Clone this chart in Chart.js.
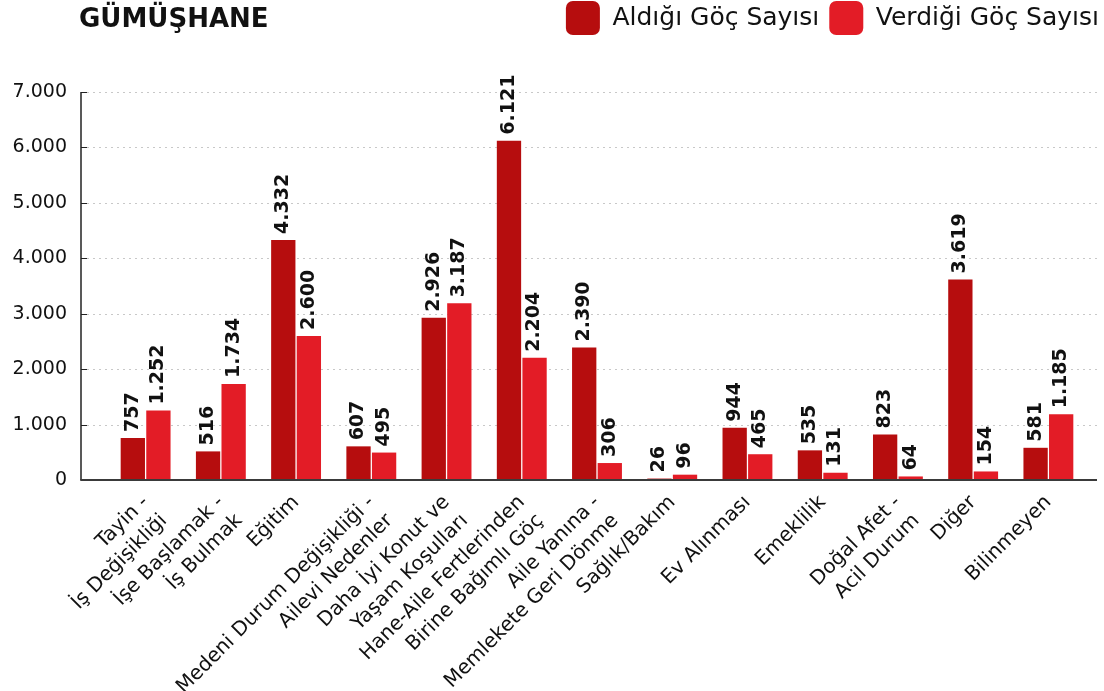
<!DOCTYPE html>
<html lang="tr">
<head>
<meta charset="utf-8">
<title>Gümüşhane - Göç Nedenleri</title>
<script src="https://cdn.jsdelivr.net/npm/chart.js@4/dist/chart.umd.min.js"></script>
<style>
  html, body { margin: 0; padding: 0; background: #ffffff; }
  #wrap { width: 1104px; height: 691px; position: relative; }
</style>
</head>
<body>
<div id="wrap"><canvas id="chart" width="1104" height="691"></canvas></div>
<script>
// Göç nedenleri (kategori etiketleri, çok satırlı)
const categories = [
  ['Tayin -', 'İş Değişikliği'],
  ['İşe Başlamak -', 'İş Bulmak'],
  ['Eğitim'],
  ['Medeni Durum Değişikliği -', 'Ailevi Nedenler'],
  ['Daha İyi Konut ve', 'Yaşam Koşulları'],
  ['Hane-Aile Fertlerinden', 'Birine Bağımlı Göç'],
  ['Aile Yanına -', 'Memlekete Geri Dönme'],
  ['Sağlık/Bakım'],
  ['Ev Alınması'],
  ['Emeklilik'],
  ['Doğal Afet -', 'Acil Durum'],
  ['Diğer'],
  ['Bilinmeyen']
];

const aldigiGoc  = [757, 516, 4332, 607, 2926, 6121, 2390, 26, 944, 535, 823, 3619, 581];
const verdigiGoc = [1252, 1734, 2600, 495, 3187, 2204, 306, 96, 465, 131, 64, 154, 1185];

const seriesNames = ['Aldığı Göç Sayısı', 'Verdiği Göç Sayısı'];
const yTicks = [0, 1000, 2000, 3000, 4000, 5000, 6000, 7000];
const chartTitle = 'GÜMÜŞHANE';

const FONT = '"DejaVu Sans", "Open Sans", sans-serif';
const COLOR_ALDIGI = '#b60d0e';
const COLOR_VERDIGI = '#e31c26';

// Türkçe binlik ayraç: 6121 -> 6.121
function fmt(v) {
  return String(Math.round(v)).replace(/\B(?=(\d{3})+(?!\d))/g, '.');
}

// Lejant kutusunun yüksekliğini sabitler; grafik alanı y=92'den başlar
const legendHeight = {
  id: 'legendHeight',
  beforeLayout(chart) {
    const lg = chart.legend;
    if (lg && !lg._fixedFit) {
      const fit = lg.fit;
      lg.fit = function () {
        fit.call(this);
        this.height = 101;
      };
      lg._fixedFit = true;
    }
  }
};

// Başlık, ızgara, eksen çizgileri ve değer etiketleri
const decorations = {
  id: 'decorations',
  beforeDatasetsDraw(chart) {
    const { ctx, scales: { y } } = chart;
    const x0 = 81, x1 = 1097;
    ctx.save();
    ctx.strokeStyle = '#c8c8c8';
    ctx.lineWidth = 1;
    ctx.setLineDash([2, 4]);
    yTicks.forEach(t => {
      if (t === 0) return;
      const py = Math.round(y.getPixelForValue(t)) + 0.5;
      ctx.beginPath();
      ctx.moveTo(x0 + 6, py);
      ctx.lineTo(x1, py);
      ctx.stroke();
    });
    ctx.setLineDash([]);
    ctx.strokeStyle = '#222';
    yTicks.forEach(t => {
      if (t === 0) return;
      const py = Math.round(y.getPixelForValue(t)) + 0.5;
      ctx.beginPath();
      ctx.moveTo(x0, py);
      ctx.lineTo(x0 + 6, py);
      ctx.stroke();
    });
    ctx.restore();
  },
  afterDatasetsDraw(chart) {
    const { ctx, scales: { y } } = chart;
    const x0 = 81, x1 = 1097;
    const top = y.getPixelForValue(7000);
    const base = y.getPixelForValue(0);
    ctx.save();
    // eksen çizgileri
    ctx.strokeStyle = '#222';
    ctx.lineWidth = 1.5;
    ctx.beginPath();
    ctx.moveTo(x0, top);
    ctx.lineTo(x0, base);
    ctx.stroke();
    ctx.strokeStyle = '#3a3a3a';
    ctx.lineWidth = 2;
    ctx.beginPath();
    ctx.moveTo(x0 - 0.75, base);
    ctx.lineTo(x1, base);
    ctx.stroke();

    // değer etiketleri (dikey)
    ctx.fillStyle = '#111';
    ctx.font = 'bold 19px ' + FONT;
    ctx.textAlign = 'left';
    ctx.textBaseline = 'middle';
    chart.data.datasets.forEach((ds, di) => {
      const meta = chart.getDatasetMeta(di);
      meta.data.forEach((bar, i) => {
        ctx.save();
        ctx.translate(bar.x, bar.y - 6);
        ctx.rotate(-Math.PI / 2);
        ctx.fillText(fmt(ds.data[i]), 0, 0);
        ctx.restore();
      });
    });

    // başlık
    ctx.fillStyle = '#111';
    ctx.font = 'bold 26px ' + FONT;
    ctx.textAlign = 'left';
    ctx.textBaseline = 'middle';
    ctx.fillText(chartTitle, 79, 20);
    ctx.restore();
  }
};

new Chart(document.getElementById('chart'), {
  type: 'bar',
  data: {
    labels: categories,
    datasets: [
      { label: seriesNames[0], data: aldigiGoc, backgroundColor: COLOR_ALDIGI },
      { label: seriesNames[1], data: verdigiGoc, backgroundColor: COLOR_VERDIGI }
    ]
  },
  options: {
    responsive: false,
    animation: false,
    devicePixelRatio: 1,
    layout: { padding: { top: -9, left: 0, right: -5, bottom: 0 } },
    datasets: {
      bar: { categoryPercentage: 0.68, barPercentage: 0.95 }
    },
    plugins: {
      title: { display: false },
      tooltip: { enabled: false },
      legend: {
        display: true,
        position: 'top',
        align: 'end',
        labels: {
          boxWidth: 34,
          boxHeight: 34,
          useBorderRadius: true,
          borderRadius: 7,
          padding: 10,
          color: '#111',
          font: { family: FONT, size: 25 }
        }
      }
    },
    scales: {
      x: {
        grid: { display: false },
        border: { display: false },
        ticks: {
          autoSkip: false,
          maxRotation: 45,
          minRotation: 45,
          padding: 2,
          color: '#111',
          font: { family: FONT, size: 20, lineHeight: 1.3 }
        },
        afterFit(scale) {
          scale.height = 211;
          scale.paddingRight = 18;
        }
      },
      y: {
        min: 0,
        max: 7000,
        grid: { display: false },
        border: { display: false },
        ticks: {
          stepSize: 1000,
          padding: 33,
          color: '#111',
          font: { family: FONT, size: 19 },
          callback: v => fmt(v)
        },
        afterFit(scale) {
          scale.width = 108;
        }
      }
    }
  },
  plugins: [legendHeight, decorations]
});
</script>
</body>
</html>
